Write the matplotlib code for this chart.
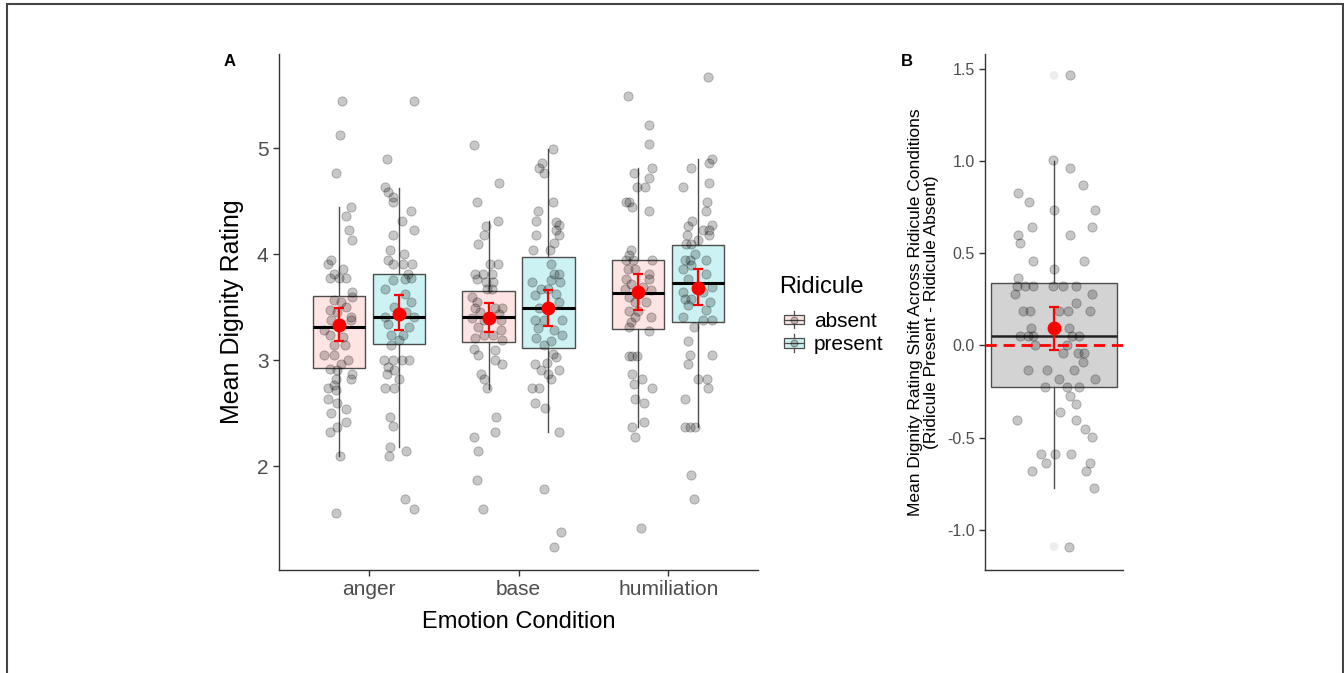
import matplotlib
matplotlib.use('Agg')
import matplotlib.pyplot as plt
from matplotlib.patches import Rectangle
from matplotlib.lines import Line2D
from matplotlib.legend_handler import HandlerBase

plt.rcParams['font.family'] = ['Liberation Sans', 'DejaVu Sans']

# ---------------- data: panel A ----------------
emotions = ['anger', 'base', 'humiliation']
ridicule = ['absent', 'present']
legend_title = 'Ridicule'
fill_colors = ['#FEE4E2', '#CCF2F3']

# group order: anger-absent, anger-present, base-absent, base-present, hum-absent, hum-present
box_q1 = [2.93, 3.157, 3.17, 3.116, 3.292, 3.361]
box_med = [3.314, 3.406, 3.406, 3.497, 3.638, 3.726]
box_q3 = [3.61, 3.81, 3.654, 3.975, 3.943, 4.09]
whisk_lo = [2.10, 2.18, 2.73, 2.32, 2.37, 2.37]
whisk_hi = [4.446, 4.63, 4.31, 4.99, 4.81, 4.90]
means = [3.337, 3.437, 3.40, 3.49, 3.64, 3.68]
ci_lo = [3.18, 3.283, 3.267, 3.32, 3.47, 3.519]
ci_hi = [3.497, 3.616, 3.544, 3.663, 3.818, 3.858]

anger_absent = [5.443, 5.129, 4.767, 4.45, 4.36, 4.226, 4.13, 3.909, 3.95, 3.862, 3.818, 3.774, 3.774,
                3.774, 3.64, 3.60, 3.566, 3.55, 3.50, 3.472, 3.456, 3.409, 3.377, 3.377, 3.283, 3.236,
                3.22, 3.142, 3.142, 3.047, 3.047, 3.006, 2.962, 2.92, 2.906, 2.868, 2.818, 2.818, 2.764,
                2.733, 2.717, 2.638, 2.597, 2.544, 2.503, 2.418, 2.371, 2.324, 2.10, 1.554]
anger_absent_jit = [0.02, 0.01, -0.02, 0.08, 0.05, 0.07, 0.09, -0.07, -0.05, 0.03, -0.03, -0.06, 0.0,
                    0.05, 0.09, 0.085, -0.03, 0.015, 0.05, -0.06, -0.01, 0.08, -0.05, 0.08, -0.10, -0.06,
                    0.03, -0.03, 0.04, -0.10, -0.035, 0.06, 0.015, -0.06, -0.01, 0.09, 0.08, -0.02, -0.03,
                    -0.07, -0.02, -0.07, -0.01, 0.05, -0.05, 0.05, -0.01, -0.06, 0.01, -0.02]

anger_present = [5.443, 4.903, 4.635, 4.588, 4.54, 4.493, 4.406, 4.311, 4.226, 4.179, 4.044, 4.0, 3.95,
                 3.912, 3.912, 3.912, 3.818, 3.774, 3.77, 3.755, 3.676, 3.629, 3.55, 3.50, 3.456, 3.409,
                 3.409, 3.346, 3.314, 3.236, 3.236, 3.189, 3.142, 3.006, 3.006, 3.006, 3.006, 2.937,
                 2.906, 2.868, 2.818, 2.733, 2.733, 2.465, 2.377, 2.18, 2.10, 2.145, 1.689, 1.60]
anger_present_jit = [0.10, -0.08, -0.09, -0.07, -0.04, -0.04, 0.08, 0.025, 0.10, -0.04, -0.06, 0.035,
                     -0.07, -0.04, 0.03, 0.09, 0.06, 0.085, 0.04, -0.04, -0.09, 0.04, 0.085, -0.03, 0.05,
                     -0.09, 0.10, -0.07, 0.07, -0.05, 0.03, 0.0, -0.05, -0.10, -0.04, 0.02, 0.07, -0.07,
                     -0.03, -0.08, 0.0, -0.09, -0.03, -0.06, -0.04, -0.06, -0.065, 0.05, 0.04, 0.10]

base_absent = [5.035, 4.676, 4.493, 4.311, 4.267, 4.179, 4.094, 3.912, 3.906, 3.818, 3.818, 3.818, 3.77,
               3.74, 3.74, 3.676, 3.676, 3.597, 3.55, 3.497, 3.497, 3.497, 3.456, 3.44, 3.40, 3.377, 3.377,
               3.314, 3.283, 3.236, 3.236, 3.205, 3.189, 3.11, 3.094, 3.047, 3.006, 2.962, 2.868, 2.818,
               2.733, 2.465, 2.324, 2.277, 2.145, 1.874, 1.60]
base_absent_jit = [-0.10, 0.07, -0.08, 0.06, -0.02, -0.03, -0.07, 0.01, 0.06, -0.09, -0.04, 0.025, -0.08,
                   -0.02, 0.03, -0.01, 0.02, -0.11, -0.08, -0.09, 0.04, 0.09, -0.06, 0.07, -0.11, -0.03, 0.08,
                   -0.07, 0.08, 0.03, -0.03, -0.09, 0.09, -0.095, 0.04, -0.07, 0.045, 0.09, -0.05, -0.03,
                   -0.01, 0.05, 0.04, -0.10, -0.07, -0.08, -0.04]

base_present = [4.99, 4.86, 4.81, 4.767, 4.493, 4.406, 4.311, 4.305, 4.274, 4.226, 4.179, 4.179, 4.11,
                4.044, 4.044, 3.912, 3.818, 3.818, 3.739, 3.755, 3.74, 3.676, 3.676, 3.613, 3.629, 3.55,
                3.497, 3.377, 3.377, 3.377, 3.30, 3.283, 3.236, 3.214, 3.18, 3.142, 3.063, 3.031, 2.962,
                2.969, 2.912, 2.912, 2.868, 2.818, 2.733, 2.733, 2.597, 2.553, 2.324, 1.78, 1.374, 1.239]
base_present_jit = [0.03, -0.04, -0.065, -0.03, 0.03, -0.07, -0.08, 0.05, 0.07, 0.05, -0.08, 0.07, 0.04,
                    -0.10, 0.01, 0.015, 0.04, 0.07, -0.11, 0.015, 0.08, -0.05, 0.0, -0.09, 0.05, 0.07, -0.06,
                    -0.09, -0.03, 0.09, -0.07, 0.04, 0.09, -0.085, 0.015, -0.03, 0.03, 0.05, -0.09, -0.01,
                    -0.05, 0.07, 0.0, 0.02, -0.11, -0.06, -0.09, -0.02, 0.07, -0.03, 0.085, 0.04]

hum_absent = [5.49, 5.224, 5.038, 4.81, 4.767, 4.724, 4.635, 4.635, 4.493, 4.493, 4.446, 4.406, 4.044,
              3.997, 3.943, 3.943, 3.943, 3.865, 3.865, 3.818, 3.77, 3.77, 3.72, 3.69, 3.676, 3.66, 3.597,
              3.55, 3.55, 3.465, 3.465, 3.409, 3.409, 3.36, 3.314, 3.274, 3.04, 3.04, 3.04, 2.868, 2.818,
              2.78, 2.733, 2.638, 2.597, 2.418, 2.371, 2.277, 1.418]
hum_absent_jit = [-0.07, 0.07, 0.07, 0.095, -0.03, 0.07, -0.01, 0.045, -0.08, -0.06, -0.04, 0.07, -0.05,
                  -0.06, -0.08, -0.035, 0.09, -0.07, -0.025, 0.075, -0.08, 0.075, -0.05, 0.03, -0.09, 0.085,
                  -0.06, -0.025, 0.05, -0.06, 0.0, -0.025, 0.085, -0.05, -0.06, 0.075, -0.01, -0.06, -0.04,
                  -0.04, 0.025, -0.03, 0.09, -0.02, 0.04, 0.04, -0.04, -0.02, 0.02]

hum_present = [5.673, 4.903, 4.86, 4.81, 4.673, 4.635, 4.493, 4.406, 4.311, 4.274, 4.267, 4.226, 4.226,
               4.179, 4.179, 4.132, 4.094, 4.094, 4.007, 3.95, 3.95, 3.95, 3.896, 3.865, 3.818, 3.77, 3.69,
               3.644, 3.644, 3.582, 3.582, 3.55, 3.519, 3.472, 3.409, 3.377, 3.377, 3.314, 3.18, 3.047,
               3.047, 2.962, 2.818, 2.818, 2.733, 2.638, 2.371, 2.371, 2.371, 1.915, 1.686]
hum_present_jit = [0.065, 0.09, 0.075, -0.05, 0.07, -0.10, 0.06, 0.05, -0.04, 0.095, -0.07, 0.035, 0.075,
                   0.07, -0.075, 0.0, -0.08, -0.05, -0.02, -0.09, -0.055, 0.055, -0.045, -0.10, 0.055, -0.07,
                   0.09, -0.10, 0.03, -0.09, -0.045, 0.08, -0.07, 0.055, -0.10, 0.03, 0.09, -0.03, -0.07,
                   -0.055, 0.09, -0.07, 0.0, 0.06, 0.065, -0.09, -0.09, -0.055, -0.02, -0.05, -0.03]

group_points = [anger_absent, anger_present, base_absent, base_present, hum_absent, hum_present]
group_jitter = [anger_absent_jit, anger_present_jit, base_absent_jit, base_present_jit,
                hum_absent_jit, hum_present_jit]

# ---------------- data: panel B ----------------
shift_vals = [1.464, 1.007, 0.962, 0.868, 0.826, 0.779, 0.734, 0.734, 0.643, 0.643, 0.598, 0.598, 0.554,
              0.458, 0.458, 0.413, 0.368, 0.322, 0.322, 0.322, 0.322, 0.322, 0.322, 0.277, 0.277, 0.232,
              0.187, 0.187, 0.187, 0.187, 0.187, 0.096, 0.096, 0.05, 0.05, 0.05, 0.05, 0.05, 0.002, 0.002,
              -0.042, -0.042, -0.042, -0.087, -0.132, -0.132, -0.132, -0.179, -0.179, -0.225, -0.225,
              -0.225, -0.272, -0.315, -0.36, -0.406, -0.406, -0.451, -0.497, -0.59, -0.59, -0.59, -0.636,
              -0.636, -0.68, -0.68, -0.77, -1.09]
shift_jit = [0.135, -0.01, 0.14, 0.25, -0.31, -0.22, 0.0, 0.36, -0.195, 0.33, -0.31, 0.14, -0.30, -0.185,
             0.26, 0.0, -0.31, -0.325, -0.25, -0.185, -0.01, 0.08, 0.19, -0.34, 0.33, 0.19, -0.27, -0.21,
             0.04, 0.12, 0.31, -0.20, 0.13, -0.30, -0.23, -0.185, 0.16, 0.22, -0.165, 0.11, 0.08, 0.205,
             0.26, 0.25, -0.23, -0.06, 0.17, 0.04, 0.36, -0.075, 0.11, 0.215, 0.14, 0.19, 0.05, -0.32,
             0.19, 0.27, 0.33, -0.11, 0.01, 0.15, -0.07, 0.31, -0.19, 0.28, 0.35, 0.13]
shift_outliers = [1.464, -1.09]
shift_q1, shift_med, shift_q3 = -0.227, 0.05, 0.34
shift_whislo, shift_whishi = -0.77, 1.0
shift_mean, shift_ci_lo, shift_ci_hi = 0.094, -0.026, 0.21

# ---------------- figure ----------------
W, H = 1344, 673
fig = plt.figure(figsize=(W / 100, H / 100), dpi=100)
fig.patch.set_facecolor('white')

axA = fig.add_axes([279 / W, 1 - 570 / H, (758 - 279) / W, (570 - 54) / H])
axB = fig.add_axes([985 / W, 1 - 570 / H, (1123 - 985) / W, (570 - 54) / H])

edge_col = '#4D4D4D'
pt_face = (0, 0, 0, 0.22)
pt_edge = (0, 0, 0, 0.28)
dodge = 0.2
box_w = 0.35

positions = []
for i, _ in enumerate(emotions):
    for j, _ in enumerate(ridicule):
        positions.append(i + 1 + (dodge if j == 1 else -dodge))

stats = []
for k in range(6):
    stats.append(dict(med=box_med[k], q1=box_q1[k], q3=box_q3[k],
                      whislo=whisk_lo[k], whishi=whisk_hi[k], fliers=[]))
bp = axA.bxp(stats, positions=positions, widths=box_w, patch_artist=True, showcaps=False,
             showfliers=False, manage_ticks=False,
             boxprops=dict(edgecolor=edge_col, linewidth=1.0),
             whiskerprops=dict(color=edge_col, linewidth=1.0),
             medianprops=dict(color='black', linewidth=2.2))
for k, patch in enumerate(bp['boxes']):
    patch.set_facecolor(fill_colors[k % 2])
    patch.set_zorder(1)

for k in range(6):
    xs = [positions[k] + j for j in group_jitter[k]]
    axA.scatter(xs, group_points[k], s=44, facecolor=pt_face, edgecolor=pt_edge,
                linewidth=0.6, zorder=3)
    axA.errorbar(positions[k], means[k],
                 yerr=[[means[k] - ci_lo[k]], [ci_hi[k] - means[k]]],
                 fmt='o', color='red', ecolor='red', markersize=9, elinewidth=1.6,
                 capsize=3.5, capthick=1.6, zorder=5)

axA.set_xlim(0.4, 3.6)
axA.set_ylim(1.02, 5.89)
axA.set_xticks([1, 2, 3])
axA.set_xticklabels(emotions)
axA.set_yticks([2, 3, 4, 5])
axA.tick_params(axis='both', labelsize=15, labelcolor='#4D4D4D', color='#333333', length=4, width=1)
axA.set_xlabel('Emotion Condition', fontsize=17, labelpad=8)
axA.set_ylabel('Mean Dignity Rating', fontsize=18, labelpad=9)
for s in ['top', 'right']:
    axA.spines[s].set_visible(False)
for s in ['left', 'bottom']:
    axA.spines[s].set_color('#333333')
    axA.spines[s].set_linewidth(1.0)

# Panel B
bstats = [dict(med=shift_med, q1=shift_q1, q3=shift_q3, whislo=shift_whislo,
               whishi=shift_whishi, fliers=[])]
bpB = axB.bxp(bstats, positions=[1], widths=1.1, patch_artist=True, showcaps=False,
              showfliers=False, manage_ticks=False,
              boxprops=dict(edgecolor=edge_col, linewidth=1.0, facecolor='#D3D3D3'),
              whiskerprops=dict(color=edge_col, linewidth=1.0),
              medianprops=dict(color='#222222', linewidth=1.8))
bpB['boxes'][0].set_zorder(1)
axB.scatter([1] * len(shift_outliers), shift_outliers, s=40, facecolor=(0, 0, 0, 0.07),
            edgecolor='none', zorder=2)
axB.scatter([1 + j for j in shift_jit], shift_vals, s=44, facecolor=pt_face, edgecolor=pt_edge,
            linewidth=0.6, zorder=3)
axB.axhline(0, color='red', linestyle=(0, (4, 2.5)), linewidth=2.0, zorder=4)
axB.errorbar(1, shift_mean, yerr=[[shift_mean - shift_ci_lo], [shift_ci_hi - shift_mean]],
             fmt='o', color='red', ecolor='red', markersize=9, elinewidth=1.6,
             capsize=3.5, capthick=1.6, zorder=5)
axB.set_xlim(0.4, 1.6)
axB.set_ylim(-1.217, 1.58)
axB.set_xticks([])
axB.set_yticks([-1.0, -0.5, 0.0, 0.5, 1.0, 1.5])
axB.set_yticklabels(['-1.0', '-0.5', '0.0', '0.5', '1.0', '1.5'])
axB.tick_params(axis='y', labelsize=11.5, labelcolor='#4D4D4D', color='#333333', length=4, width=1)
axB.set_ylabel('Mean Dignity Rating Shift Across Ridicule Conditions\n(Ridicule Present - Ridicule Absent)',
               fontsize=12.5, labelpad=6, linespacing=1.05)
for s in ['top', 'right']:
    axB.spines[s].set_visible(False)
for s in ['left', 'bottom']:
    axB.spines[s].set_color('#333333')
    axB.spines[s].set_linewidth(1.0)

# panel tags
fig.text(230 / W, 1 - 62 / H, 'A', fontsize=12, fontweight='bold', ha='center', va='center')
fig.text(907 / W, 1 - 62 / H, 'B', fontsize=12, fontweight='bold', ha='center', va='center')


# legend with boxplot glyphs
class BoxHandler(HandlerBase):
    def create_artists(self, legend, orig_handle, xdescent, ydescent, width, height, fontsize, trans):
        fc = orig_handle.get_facecolor()
        cx = -xdescent + width / 2
        cy = -ydescent + height / 2
        bw = width * 0.9
        bh = height * 0.6
        rect = Rectangle((cx - bw / 2, cy - bh / 2), bw, bh, facecolor=fc, edgecolor=edge_col,
                         linewidth=0.9, transform=trans)
        wl = Line2D([cx, cx], [cy - height * 0.55, cy + height * 0.55], color=edge_col, linewidth=0.9,
                    transform=trans)
        ml = Line2D([cx - bw / 2, cx + bw / 2], [cy, cy], color=edge_col, linewidth=0.9, transform=trans)
        dot = Line2D([cx], [cy], marker='o', markersize=5, markerfacecolor=(0, 0, 0, 0.22),
                     markeredgecolor=(0, 0, 0, 0.28), linestyle='none', transform=trans)
        return [wl, rect, ml, dot]


fig.text(779 / W, 1 - 287 / H, legend_title, fontsize=17, ha='left', va='center')
handles = [Rectangle((0, 0), 1, 1, facecolor=c) for c in fill_colors]
leg = fig.legend(handles, ridicule, loc='upper left',
                 bbox_to_anchor=(768 / W, 1 - 297 / H), frameon=False, fontsize=15,
                 handler_map={Rectangle: BoxHandler()},
                 handlelength=1.1, handleheight=0.8, handletextpad=0.4, labelspacing=0.2,
                 borderpad=0.2)

# outer border
fig.patches.append(Rectangle((6.5 / W, -0.02), (1342.5 - 6.5) / W, 1 - 4 / H + 0.02,
                             transform=fig.transFigure, fill=False, edgecolor='#444444',
                             linewidth=1.5, clip_on=False))

fig.savefig('out.png', dpi=100)
